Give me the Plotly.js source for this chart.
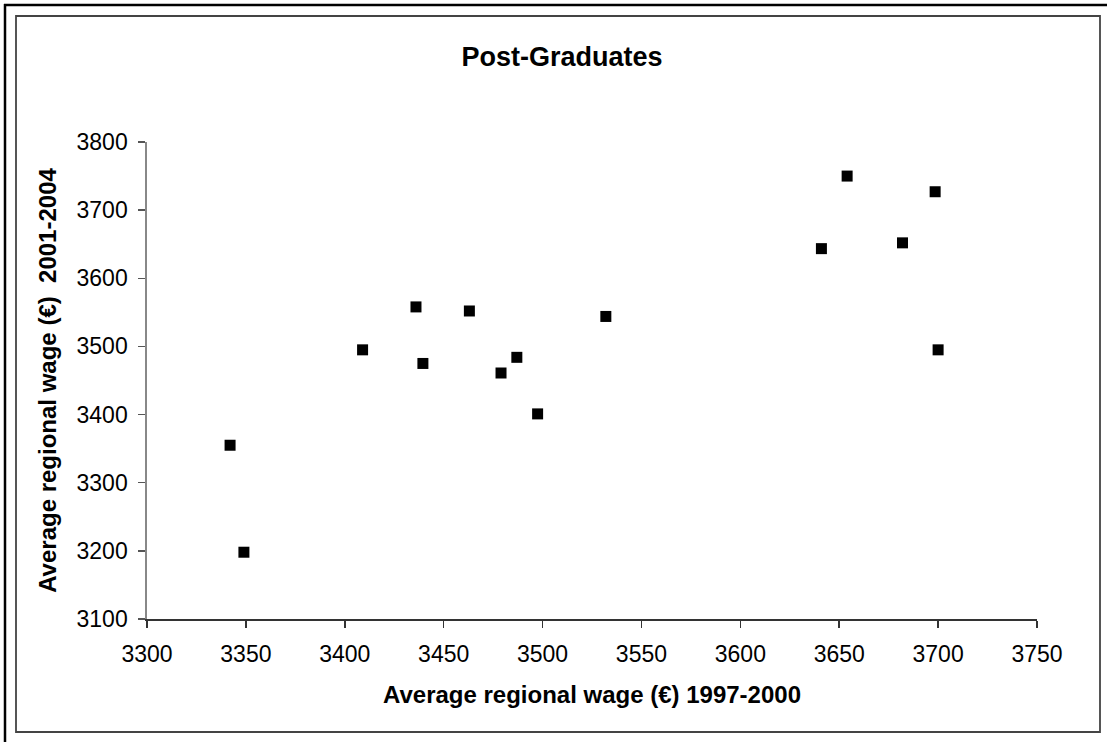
<!DOCTYPE html>
<html>
<head>
<meta charset="utf-8">
<script src="https://cdn.plot.ly/plotly-3.0.1.min.js"></script>
<style>
  html, body { margin: 0; padding: 0; background: #ffffff; }
  #chart { width: 1107px; height: 742px; }
</style>
</head>
<body>
<div id="chart"></div>
<script>
// Data
const wage1997_2000 = [3342, 3349, 3409, 3436, 3439.5, 3463, 3479, 3487, 3497.5, 3532, 3641, 3654, 3682, 3698.5, 3700];
const wage2001_2004 = [3355, 3198, 3495, 3558, 3475, 3552, 3461, 3484, 3401, 3544, 3643.5, 3750, 3652, 3727, 3495];
const xTicks = [3300, 3350, 3400, 3450, 3500, 3550, 3600, 3650, 3700, 3750];
const yTicks = [3100, 3200, 3300, 3400, 3500, 3600, 3700, 3800];

const W = 1107, H = 742;
const L = 147, R = 70, T = 142, B = 123;
const pw = W - L - R, ph = H - T - B;
const px = v => (v - L) / pw;
const py = v => (H - B - v) / ph;

const trace = {
  type: 'scatter',
  mode: 'markers',
  x: wage1997_2000,
  y: wage2001_2004,
  marker: { symbol: 'square', size: 11, color: '#000000' },
  hoverinfo: 'x+y'
};

const font = 'Liberation Sans, Arial, sans-serif';

const layout = {
  width: W, height: H,
  margin: { l: L, r: R, t: T, b: B, pad: 0 },
  paper_bgcolor: '#ffffff',
  plot_bgcolor: '#ffffff',
  showlegend: false,
  font: { family: font, color: '#000000' },
  title: {
    text: '<b>Post-Graduates</b>',
    font: { family: font, size: 27, color: '#000000' },
    x: 562 / W, xanchor: 'center', xref: 'container',
    y: 1 - 57 / H, yanchor: 'middle', yref: 'container'
  },
  xaxis: {
    range: [3300, 3750],
    tickmode: 'array', tickvals: xTicks, ticktext: xTicks.map(String),
    showgrid: false, zeroline: false,
    showline: true, linecolor: '#333333', linewidth: 1.5,
    ticks: 'outside', ticklen: 7, tickcolor: '#333333', tickwidth: 1.5,
    tickfont: { family: font, size: 23, color: '#000000' },
    ticklabelstandoff: 7,
    title: { text: '<b>Average regional wage (€) 1997-2000</b>', font: { family: font, size: 24, color: '#000000' }, standoff: 20 }
  },
  yaxis: {
    range: [3100, 3800],
    tickmode: 'array', tickvals: yTicks, ticktext: yTicks.map(String),
    showgrid: false, zeroline: false,
    showline: true, linecolor: '#888888', linewidth: 1.7,
    ticks: 'outside', ticklen: 7, tickcolor: '#555555', tickwidth: 1.5,
    tickfont: { family: font, size: 23, color: '#000000' },
    ticklabelstandoff: 6,
    title: { text: '<b>Average regional wage (€)  2001-2004</b>', font: { family: font, size: 24, color: '#000000' }, standoff: 13 }
  },
  shapes: [
    // outer black frame (left and top)
    { type: 'line', xref: 'paper', yref: 'paper', x0: px(5), x1: px(5), y0: py(4), y1: py(742), line: { color: '#000000', width: 2.5 } },
    { type: 'line', xref: 'paper', yref: 'paper', x0: px(4), x1: px(1107), y0: py(5), y1: py(5), line: { color: '#000000', width: 2.5 } },
    // inner chart-area frame
    { type: 'rect', xref: 'paper', yref: 'paper', x0: px(16), x1: px(1100), y0: py(16), y1: py(732), line: { color: '#444444', width: 1.8 } }
  ]
};

Plotly.newPlot('chart', [trace], layout, { displayModeBar: false, staticPlot: true });
</script>
</body>
</html>
